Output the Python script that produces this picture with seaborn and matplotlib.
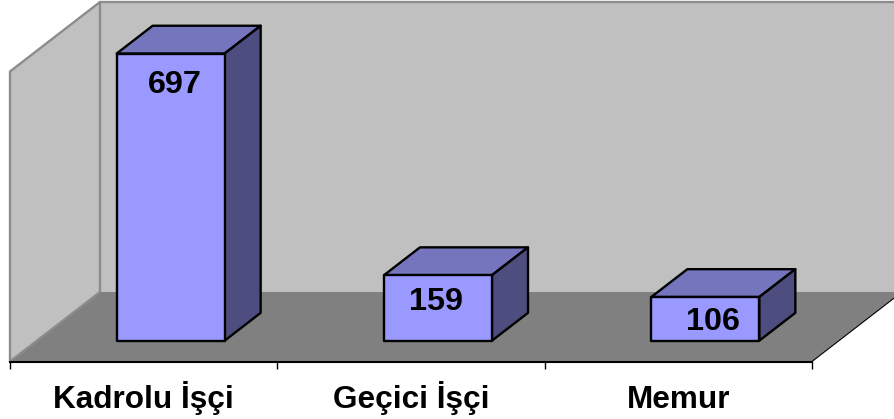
# 3B gorunumlu sutun grafigi
import matplotlib
matplotlib.use('Agg')
import matplotlib.pyplot as plt
from matplotlib.patches import Polygon
import seaborn as sns
import pandas as pd

categories = ['Kadrolu İşçi', 'Geçici İşçi', 'Memur']
values = [697, 159, 106]

sns.set_theme(style='white')
plt.rcParams['font.family'] = ['Liberation Sans', 'DejaVu Sans']

W, H = 895, 419
fig = plt.figure(figsize=(W / 100, H / 100), dpi=100, facecolor='white')
ax = fig.add_axes([10 / W, (H - 361.5) / H, 802 / W, 290 / H])

df = pd.DataFrame({'kategori': categories, 'adet': values})
sns.barplot(data=df, x='kategori', y='adet', color='#9999FF', saturation=1,
            width=0.404, edgecolor='black', linewidth=1.7, ax=ax, zorder=3)

ymax = 704
ax.set_xlim(-0.5, 2.5)
ax.set_ylim(0, ymax)

# derinlik: on duzlemden arka duvara kayma (veri biriminde)
DX = 90 / (802 / 3)
DY = 69.5 / (290 / ymax)


def pt(x, y, d):
    return (x + d * DX, y + d * DY)


def face(points, color, edge='none', lw=0, z=1):
    ax.add_patch(Polygon(points, closed=True, facecolor=color, edgecolor=edge,
                         linewidth=lw, zorder=z, clip_on=False, joinstyle='round'))


# duvarlar ve taban
face([pt(-0.5, 0, 1), pt(2.5, 0, 1), pt(2.5, ymax, 1), pt(-0.5, ymax, 1)], '#C0C0C0', z=0.5)
face([pt(-0.5, 0, 0), pt(-0.5, 0, 1), pt(-0.5, ymax, 1), pt(-0.5, ymax, 0)], '#C0C0C0', z=0.6)
face([pt(-0.5, 0, 0), pt(2.5, 0, 0), pt(2.5, 0, 1), pt(-0.5, 0, 1)], '#808080', z=0.7)
ax.plot(*zip(pt(-0.5, 0, 0), pt(-0.5, ymax, 0), pt(-0.5, ymax, 1), pt(-0.5, 0, 1), pt(-0.5, 0, 0)),
        color='#8C8C8C', lw=1.7, clip_on=False, zorder=0.8)
ax.plot(*zip(pt(-0.5, ymax, 1), pt(2.5, ymax, 1)), color='#8C8C8C', lw=1.7, clip_on=False, zorder=0.8)
ax.plot(*zip(pt(2.5, 0, 0), pt(2.5, 0, 1)), color='black', lw=0.8, clip_on=False, zorder=0.8)

# sutunlar: on yuz seaborn'dan, ust ve yan yuz ondan turetiliyor
d0, d1 = 0.3, 0.7
label_shift = [4, -2, 8]
label_drop = [31, 27, 25]
for i, p in enumerate(ax.patches[:len(values)]):
    x0, w, v = p.get_x(), p.get_width(), p.get_height()
    x1 = x0 + w
    p.set_x(x0 + d0 * DX)
    p.set_y(d0 * DY)
    p.set_clip_on(False)
    p.set_joinstyle('round')
    face([pt(x0, v, d0), pt(x1, v, d0), pt(x1, v, d1), pt(x0, v, d1)], '#7575BD', 'black', 1.7, 2)
    face([pt(x1, 0, d0), pt(x1, v, d0), pt(x1, v, d1), pt(x1, 0, d1)], '#4D4D80', 'black', 1.7, 2)
    cx, top = pt(i, v, d0)
    ax.annotate(str(values[i]), (cx, top), xytext=(label_shift[i] * 0.72, -label_drop[i] * 0.72),
                textcoords='offset points', ha='center', va='center', annotation_clip=False,
                fontsize=23.3, fontweight='bold', color='black', zorder=5)

# eksen
sns.despine(ax=ax, left=True, top=True, right=True)
ax.spines['bottom'].set_color('black')
ax.spines['bottom'].set_linewidth(1.5)
ax.spines['bottom'].set_zorder(6)
ax.set_yticks([])
ax.set_xlabel('')
ax.set_ylabel('')
ax.set_xticks([-0.5, 0.5, 1.5, 2.5], minor=True)
ax.tick_params(axis='x', which='minor', bottom=True, length=5, width=1, color='black')
ax.tick_params(axis='x', which='major', bottom=False, length=0, pad=33.5)
ax.set_xticks(range(len(categories)))
ax.set_xticklabels(categories, fontsize=22.7, fontweight='bold', color='black', va='baseline')
ax.patch.set_visible(False)

fig.savefig('out.png', dpi=100)
